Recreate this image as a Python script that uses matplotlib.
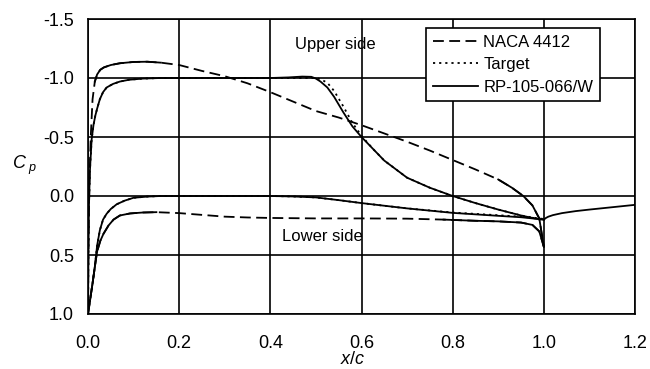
import numpy as np
import matplotlib
matplotlib.use('Agg')
from matplotlib import pyplot as plt

plt.rcParams['font.family'] = ['Liberation Sans', 'DejaVu Sans']
plt.rcParams['mathtext.fontset'] = 'custom'
plt.rcParams['mathtext.it'] = 'Liberation Sans:italic'
plt.rcParams['mathtext.rm'] = 'Liberation Sans'
plt.rcParams['axes.unicode_minus'] = False

# NACA 4412, upper and lower side
naca_up_x = [0.0, 0.001, 0.003, 0.006, 0.01, 0.015, 0.02, 0.027, 0.035, 0.05, 0.07, 0.1, 0.13,
             0.16, 0.2, 0.25, 0.3, 0.35, 0.4, 0.45, 0.5, 0.55, 0.6, 0.65, 0.7, 0.75, 0.8, 0.85,
             0.9, 0.93, 0.955, 0.975, 0.99, 1.0]
naca_up_cp = [1.0, 0.4, -0.1, -0.5, -0.82, -0.97, -1.03, -1.07, -1.09, -1.11, -1.125, -1.136,
              -1.138, -1.13, -1.11, -1.06, -1.015, -0.955, -0.88, -0.8, -0.72, -0.665, -0.6,
              -0.53, -0.46, -0.385, -0.305, -0.225, -0.14, -0.07, 0.0, 0.08, 0.19, 0.43]
naca_lo_x = [0.0, 0.005, 0.01, 0.015, 0.02, 0.027, 0.034, 0.045, 0.056, 0.07, 0.092, 0.12, 0.15,
             0.2, 0.25, 0.3, 0.35, 0.4, 0.5, 0.6, 0.7, 0.78, 0.85, 0.9, 0.95, 0.975, 0.99, 1.0]
naca_lo_cp = [1.0, 0.87, 0.74, 0.6, 0.47, 0.38, 0.32, 0.25, 0.2, 0.165, 0.148, 0.14, 0.137,
              0.145, 0.16, 0.175, 0.182, 0.186, 0.19, 0.19, 0.192, 0.2, 0.21, 0.215, 0.225, 0.245, 0.3, 0.43]

# RP-105-066/W
rp_up_x = [0.0, 0.001, 0.002, 0.004, 0.008, 0.012, 0.016, 0.02, 0.026, 0.033, 0.041, 0.055, 0.07,
           0.09, 0.12, 0.16, 0.2, 0.3, 0.4, 0.44, 0.47, 0.49, 0.5, 0.51, 0.525, 0.54, 0.56, 0.58,
           0.6, 0.625, 0.65, 0.7, 0.75, 0.8, 0.85, 0.9, 0.95, 0.98, 1.0]
rp_up_cp = [1.0, 0.5, 0.1, -0.2, -0.48, -0.6, -0.68, -0.74, -0.82, -0.88, -0.92, -0.95, -0.97,
            -0.985, -0.995, -1.0, -1.0, -1.0, -1.0, -1.005, -1.012, -1.01, -0.995, -0.97, -0.92,
            -0.84, -0.71, -0.59, -0.5, -0.4, -0.3, -0.155, -0.07, 0.0, 0.06, 0.115, 0.165, 0.19, 0.2]
rp_lo_x = [0.0, 0.005, 0.01, 0.015, 0.02, 0.026, 0.033, 0.041, 0.05, 0.063, 0.08, 0.1, 0.13, 0.16,
           0.2, 0.3, 0.4, 0.45, 0.5, 0.55, 0.6, 0.7, 0.8, 0.9, 0.95, 1.0]
rp_lo_cp = [1.0, 0.87, 0.74, 0.6, 0.42, 0.29, 0.2, 0.15, 0.11, 0.07, 0.04, 0.015, 0.005, 0.0,
            0.0, 0.0, 0.0, 0.004, 0.012, 0.035, 0.06, 0.105, 0.143, 0.168, 0.18, 0.2]

# Target (differs from RP only slightly)
tg_up_x = [0.0, 0.001, 0.002, 0.004, 0.008, 0.012, 0.016, 0.02, 0.026, 0.033, 0.041, 0.055, 0.07,
           0.09, 0.12, 0.16, 0.2, 0.3, 0.4, 0.5, 0.51, 0.525, 0.54, 0.56, 0.58, 0.6, 0.625, 0.65,
           0.7, 0.75, 0.8, 0.85, 0.9, 0.95, 0.98, 1.0]
tg_up_cp = [1.0, 0.5, 0.1, -0.2, -0.48, -0.6, -0.68, -0.74, -0.82, -0.88, -0.92, -0.95, -0.97,
            -0.985, -0.995, -1.0, -1.0, -1.0, -1.0, -1.0, -0.99, -0.96, -0.89, -0.76, -0.62, -0.51,
            -0.4, -0.3, -0.155, -0.07, 0.0, 0.06, 0.115, 0.165, 0.185, 0.195]
tg_lo_x = rp_lo_x
tg_lo_cp = [1.0, 0.87, 0.74, 0.6, 0.42, 0.29, 0.2, 0.15, 0.11, 0.07, 0.04, 0.015, 0.005, 0.0,
            0.0, 0.0, 0.0, 0.004, 0.012, 0.035, 0.06, 0.105, 0.14, 0.163, 0.175, 0.195]

# wake behind trailing edge
wake_x = [1.0, 1.005, 1.01, 1.02, 1.04, 1.07, 1.1, 1.15, 1.2]
wake_cp = [0.2, 0.185, 0.175, 0.162, 0.145, 0.128, 0.115, 0.095, 0.075]

xticks = [0.0, 0.2, 0.4, 0.6, 0.8, 1.0, 1.2]
yticks = [-1.5, -1.0, -0.5, 0.0, 0.5, 1.0]

fig = plt.figure(figsize=(6.5, 3.69), dpi=100)
ax = fig.add_axes([88 / 650, 1 - 314 / 369, 547 / 650, 295 / 369])

lw = 1.3
dash = (6, 3)
dot = (1.2, 2.2)

# NACA: dashed, but the densely sampled stretches look solid
ax.plot(naca_up_x, naca_up_cp, color='k', lw=lw, dashes=dash, label='NACA 4412')
ax.plot(naca_lo_x, naca_lo_cp, color='k', lw=lw, dashes=dash)
nux, nuc = np.array(naca_up_x), np.array(naca_up_cp)
nlx, nlc = np.array(naca_lo_x), np.array(naca_lo_cp)
for m in [(nux >= 0.015) & (nux <= 0.16), nux >= 0.9]:
    ax.plot(nux[m], nuc[m], color='k', lw=lw)
for m in [nlx <= 0.15, nlx >= 0.78]:
    ax.plot(nlx[m], nlc[m], color='k', lw=lw)

ax.plot(tg_up_x, tg_up_cp, color='k', lw=lw, dashes=dot, label='Target')
ax.plot(tg_lo_x, tg_lo_cp, color='k', lw=lw, dashes=dot)

ax.plot(rp_up_x, rp_up_cp, color='k', lw=lw, label='RP-105-066/W')
ax.plot(rp_lo_x, rp_lo_cp, color='k', lw=lw)
ax.plot(wake_x, wake_cp, color='k', lw=lw)

ax.set_xlim(0, 1.2)
ax.set_ylim(1.0, -1.5)
ax.set_xticks(xticks)
ax.set_yticks(yticks)
ax.set_xticklabels(['%.1f' % v for v in xticks])
ax.set_yticklabels(['%.1f' % v for v in yticks])
ax.tick_params(length=0, labelsize=13)
ax.tick_params(axis='x', pad=15)
ax.tick_params(axis='y', pad=10)
ax.grid(True, color='k', lw=1.2)
for s in ax.spines.values():
    s.set_linewidth(1.2)

ax.set_xlabel('$x/c$', fontsize=13)
ax.xaxis.set_label_coords((353 - 88) / 547, -(351 - 314) / 295)
ax.set_ylabel('$C_{\\ p}$', fontsize=13, rotation=0, ha='left', va='center')
ax.yaxis.set_label_coords((12 - 88) / 547, (314 - 165) / 295)

ax.text(0.454, -1.28, 'Upper side', fontsize=12, va='center')
ax.text(0.425, 0.347, 'Lower side', fontsize=12, va='center')

leg = ax.legend(loc='upper right', bbox_to_anchor=((600 - 88) / 547, (314 - 28) / 295),
                borderaxespad=0, fancybox=False, framealpha=1, edgecolor='k',
                fontsize=12, handlelength=2.7, handletextpad=0.35, labelspacing=0.45,
                borderpad=0.4)
leg.get_frame().set_linewidth(1.2)

fig.savefig('out.png', dpi=100, facecolor='white')
